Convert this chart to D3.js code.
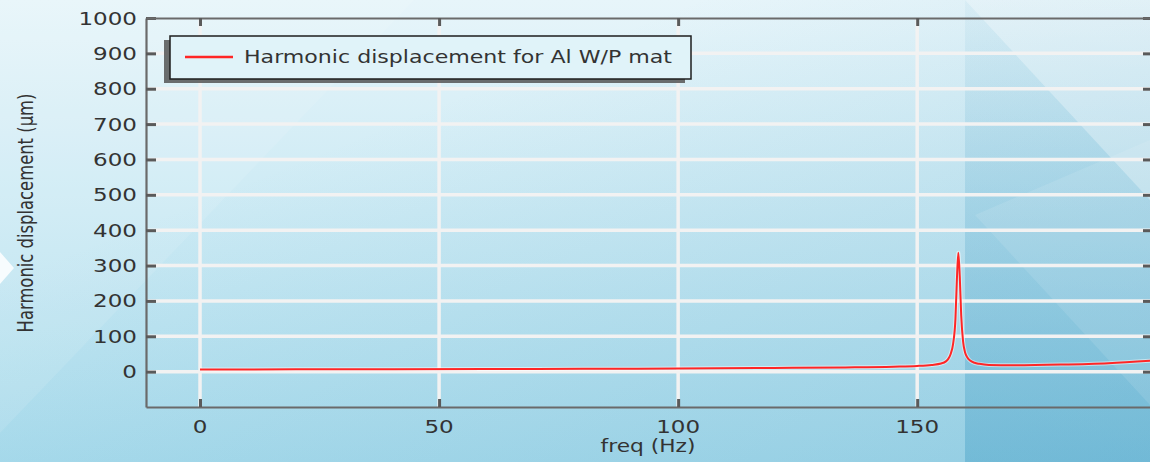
<!DOCTYPE html>
<html>
<head>
<meta charset="utf-8">
<script src="https://cdn.jsdelivr.net/npm/d3@7"></script>
<style>
  html, body { margin: 0; padding: 0; overflow: hidden; }
  svg { display: block; }
  text { font-family: "DejaVu Sans", sans-serif; fill: #333; }
</style>
</head>
<body>
<svg id="chart" width="1150" height="462"></svg>
<script>
// === DATA ===

// frequency (Hz) and harmonic displacement (µm)
const FREQ = [0, 20, 40, 60, 80, 100, 120, 135, 145, 150, 153, 155, 156, 156.5, 157, 157.5,
              158, 158.3, 158.6, 158.9, 159.2, 159.6, 160, 160.5, 161, 162, 163, 165, 170, 180, 190, 199];
const DISP = [6, 6.5, 7, 7.5, 8, 9, 10.5, 12, 14, 16, 19, 23, 29, 36, 50, 78,
              150, 260, 336, 270, 160, 85, 55, 40, 32, 25, 22, 19, 18, 20, 24, 31];

const X_TICKS = [0, 50, 100, 150];
const Y_TICKS = [0, 100, 200, 300, 400, 500, 600, 700, 800, 900, 1000];
const X_DOMAIN = [-11.3, 198.9];
const Y_DOMAIN = [-100, 1000];

const LEGEND_LABEL = 'Harmonic displacement for Al W/P mat';
const X_LABEL = 'freq (Hz)';
const Y_LABEL = 'Harmonic displacement (µm)';

// === LAYOUT ===

const W = 1150, H = 462;
const plot = { left: 146, top: 18, right: 1151, bottom: 407 };
// text in the picture is stretched sideways
const TICK_STRETCH = 1.28;
const LEGEND_STRETCH = 1.30;

const svg = d3.select('#chart');
const defs = svg.append('defs');

// === BACKGROUND ===

const bgGrad = defs.append('linearGradient').attr('id', 'bg')
    .attr('x1', 0).attr('y1', 0).attr('x2', 0).attr('y2', 1);
bgGrad.append('stop').attr('offset', 0).attr('stop-color', '#e7f5fa');
bgGrad.append('stop').attr('offset', 1).attr('stop-color', '#acdded');

const sideGrad = defs.append('linearGradient').attr('id', 'side')
    .attr('x1', 0).attr('y1', 0).attr('x2', 1).attr('y2', 1);
sideGrad.append('stop').attr('offset', 0.3).attr('stop-color', '#3a95bd').attr('stop-opacity', 0);
sideGrad.append('stop').attr('offset', 1).attr('stop-color', '#3a95bd').attr('stop-opacity', 0.22);

const panelGrad = defs.append('linearGradient').attr('id', 'panel')
    .attr('x1', 0).attr('y1', 0).attr('x2', 0).attr('y2', 1);
panelGrad.append('stop').attr('offset', 0).attr('stop-color', '#3f9cc4').attr('stop-opacity', 0.05);
panelGrad.append('stop').attr('offset', 1).attr('stop-color', '#3f9cc4').attr('stop-opacity', 0.4);

const bg = svg.append('g').attr('class', 'background');
bg.append('rect').attr('width', W).attr('height', H).attr('fill', 'url(#bg)');
bg.append('rect').attr('width', W).attr('height', H).attr('fill', 'url(#side)');
bg.append('rect').attr('x', 965).attr('width', W - 965).attr('height', H).attr('fill', 'url(#panel)');
// light wedges
bg.append('polygon').attr('points', '965,0 1150,0 1150,200').attr('fill', '#ffffff').attr('opacity', 0.3);
bg.append('polygon').attr('points', '1150,140 975,215 1150,405').attr('fill', '#ffffff').attr('opacity', 0.1);
bg.append('polygon').attr('points', '0,0 414,0 0,433').attr('fill', '#ffffff').attr('opacity', 0.1);
bg.append('polygon').attr('points', '0,252 14,268 0,284').attr('fill', '#ffffff').attr('opacity', 0.85);

// === SCALES ===

const x = d3.scaleLinear().domain(X_DOMAIN).range([plot.left, plot.right]);
const y = d3.scaleLinear().domain(Y_DOMAIN).range([plot.bottom, plot.top]);

// === GRID ===

const grid = svg.append('g').attr('class', 'grid');
grid.selectAll('.hgrid')
    .data(Y_TICKS.filter(d => d < 1000))
    .join('line')
    .attr('x1', plot.left).attr('x2', plot.right)
    .attr('y1', d => y(d)).attr('y2', d => y(d))
    .attr('stroke', '#f2f2f2').attr('stroke-width', 3.5);
grid.selectAll('.vgrid')
    .data(X_TICKS)
    .join('line')
    .attr('x1', d => x(d)).attr('x2', d => x(d))
    .attr('y1', plot.top).attr('y2', plot.bottom)
    .attr('stroke', '#f2f2f2').attr('stroke-width', 3.5);

// === AXES (ticks inward on all four sides) ===

function styleAxis(g) {
    g.select('.domain').attr('stroke', '#6a6a6a').attr('stroke-width', 2.2);
    g.selectAll('.tick line').attr('stroke', '#5a5a5a').attr('stroke-width', 3);
}

svg.append('g')
    .attr('transform', `translate(${plot.left},0)`)
    .call(d3.axisLeft(y).tickValues(Y_TICKS).tickSize(-10).tickSizeOuter(0).tickFormat(''))
    .call(styleAxis);
svg.append('g')
    .attr('transform', `translate(${plot.right},0)`)
    .call(d3.axisRight(y).tickValues(Y_TICKS).tickSize(-8).tickSizeOuter(0).tickFormat(''))
    .call(styleAxis);
svg.append('g')
    .attr('transform', `translate(0,${plot.bottom})`)
    .call(d3.axisBottom(x).tickValues(X_TICKS).tickSize(-8).tickSizeOuter(0).tickFormat(''))
    .call(styleAxis);
svg.append('g')
    .attr('transform', `translate(0,${plot.top})`)
    .call(d3.axisTop(x).tickValues(X_TICKS).tickSize(-8).tickSizeOuter(0).tickFormat(''))
    .call(styleAxis);

// tick labels (stretched text, so placed through transforms)
const labels = svg.append('g').attr('class', 'tick-labels').style('font-size', '18px');
labels.selectAll('.ylab')
    .data(Y_TICKS)
    .join('text')
    .attr('transform', d => `translate(137,${y(d) + 6.5}) scale(${TICK_STRETCH},1)`)
    .attr('text-anchor', 'end')
    .text(d => d);
labels.selectAll('.xlab')
    .data(X_TICKS)
    .join('text')
    .attr('transform', d => `translate(${x(d)},433) scale(${TICK_STRETCH},1)`)
    .attr('text-anchor', 'middle')
    .text(d => d);

svg.append('text')
    .attr('transform', `translate(${(plot.left + 1150) / 2},452) scale(${TICK_STRETCH},1)`)
    .attr('text-anchor', 'middle')
    .style('font-size', '17px')
    .text(X_LABEL);

svg.append('text')
    .attr('transform', `translate(33,213) scale(${TICK_STRETCH},1) rotate(-90)`)
    .attr('text-anchor', 'middle')
    .style('font-size', '16.4px')
    .text(Y_LABEL);

// === CURVE ===

const series = FREQ.map((f, i) => ({ f, v: DISP[i] }));
const line = d3.line().x(d => x(d.f)).y(d => y(d.v)).curve(d3.curveMonotoneX);

svg.append('path')
    .datum(series)
    .attr('d', line)
    .attr('fill', 'none')
    .attr('stroke', '#ffffff').attr('stroke-opacity', 0.5).attr('stroke-width', 4);
svg.append('path')
    .datum(series)
    .attr('d', line)
    .attr('fill', 'none')
    .attr('stroke', '#ff2626').attr('stroke-width', 2);

// === LEGEND ===

const legend = svg.append('g').attr('class', 'legend');
legend.append('rect')
    .attr('x', 164).attr('y', 40).attr('width', 521).attr('height', 43)
    .attr('fill', '#555').attr('opacity', 0.85);
legend.append('rect')
    .attr('x', 170).attr('y', 36).attr('width', 521).attr('height', 43)
    .attr('fill', '#e0f3f9').attr('stroke', '#1e1e1e').attr('stroke-width', 1.5);
legend.append('line')
    .attr('x1', 185).attr('x2', 233).attr('y1', 57).attr('y2', 57)
    .attr('stroke', '#ff2626').attr('stroke-width', 2.5);
legend.append('text')
    .attr('transform', `translate(244,63) scale(${LEGEND_STRETCH},1)`)
    .style('font-size', '17px')
    .text(LEGEND_LABEL);
</script>
</body>
</html>
